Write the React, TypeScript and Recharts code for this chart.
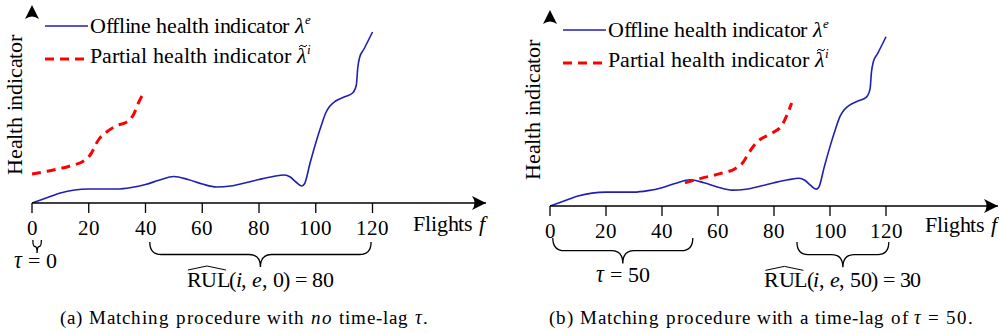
import React from 'react'
import { LineChart, Line, XAxis, YAxis, ReferenceArea, ReferenceDot } from 'recharts'

// offline health indicator (same curve in both panels)
const flights = [0, 5, 10, 15, 20, 25, 30, 35, 40, 45, 50, 55, 60, 65, 70, 75, 80, 85, 89, 91, 93, 95, 96, 98, 100, 102, 103.5, 105, 107, 110, 113, 114.3, 114.8, 115.5, 117, 120]
const offlineHI = [0, 5, 10, 13, 14, 14, 14, 15.5, 18.5, 23, 26.5, 23.5, 19, 16, 17, 20, 23.5, 26.5, 28, 26, 21, 17, 19, 40, 60, 78, 90, 97, 102, 106, 110, 118, 135, 146, 154, 171]

// partial health indicator, panel (a): no time lag
const partialFlightsA = [0, 7.5, 13.4, 18.7, 20.5, 23.4, 26.3, 30.4, 33.4, 35.7, 37.5, 39.3]
const partialHIA = [29, 33, 37, 43, 48, 63, 71, 78, 81, 88, 100, 110]

// partial health indicator, panel (b): shifted by tau = 50
const partialFlightsB = [48.2, 53.6, 60.7, 66.1, 69.0, 70.8, 73.8, 78.6, 82.7, 84.5, 86.3]
const partialHIB = [23.3, 27.7, 32.7, 37.7, 44.3, 52.7, 64.3, 72.7, 81, 91, 104]

const xTicks = [0, 20, 40, 60, 80, 100, 120]

const BLUE = '#1f1fb4'
const RED = '#ff0000'
const FAMILY = "HISerif, 'Liberation Serif', 'Tinos', 'FreeSerif', 'DejaVu Serif'"
const serif = { fontFamily: FAMILY }
const fontCss = `
@font-face { font-family: 'HISerif'; src: local('Liberation Serif'), local('LiberationSerif'), local('LiberationSerif-Regular'); font-style: normal; }
@font-face { font-family: 'HISerif'; src: local('Liberation Serif Italic'), local('LiberationSerif-Italic'); font-style: italic; }
.hi-fig text, .hi-fig tspan { font-family: ${FAMILY} !important; }
`

const offlineData = flights.map((f, i) => ({ f, v: offlineHI[i] }))
const partialDataA = partialFlightsA.map((f, i) => ({ f, v: partialHIA[i] }))
const partialDataB = partialFlightsB.map((f, i) => ({ f, v: partialHIB[i] }))

function bracePath(x: number, y: number, w: number, h: number) {
  const cx = x + w / 2
  const ym = y + h * 0.5
  const r = Math.min(h * 0.45, w / 4)
  return `M${x},${y} Q${x},${ym} ${x + r},${ym} L${cx - r},${ym} Q${cx},${ym} ${cx},${y + h} Q${cx},${ym} ${cx + r},${ym} L${x + w - r},${ym} Q${x + w},${ym} ${x + w},${y}`
}

function makeBrace(label: (cx: number, y: number) => React.ReactNode) {
  return (props: any) => {
    const { x, y, width, height } = props
    return (
      <g>
        <path d={bracePath(x, y, width, height)} fill="none" stroke="#000" strokeWidth={1.3} />
        {label(x + width / 2, y + height)}
      </g>
    )
  }
}

function rulLabel(tail: string, width: number) {
  return (cx: number, tip: number) => {
    const base = tip + 20
    const left = cx - width / 2
    return (
      <g>
        <text x={left} y={base} textLength={width} lengthAdjust="spacing" style={serif} fontSize={22} fill="#000">
          <tspan>RUL(</tspan>
          <tspan fontStyle="italic">i</tspan>
          <tspan>, </tspan>
          <tspan fontStyle="italic">e</tspan>
          <tspan>{tail}</tspan>
        </text>
        <path d={`M${left + 1},${base - 17} L${left + 20},${base - 21} L${left + 39},${base - 17}`} fill="none" stroke="#000" strokeWidth={1} />
      </g>
    )
  }
}

function tauLabel(text: string, dx: number, dy: number) {
  return (cx: number, tip: number) => (
    <text x={cx + dx} y={tip + dy} textAnchor="middle" style={serif} fontSize={22} fill="#000">
      <tspan fontStyle="italic">τ</tspan>
      <tspan>{text}</tspan>
    </text>
  )
}

const FlightTick = (props: any) => {
  const { x, y, payload } = props
  return (
    <text x={x} y={y + 14} textAnchor="middle" style={serif} fontSize={21} fill="#000">
      {payload.value}
    </text>
  )
}

const arrowRight = (props: any) => {
  const { cx, cy } = props
  return <path d={`M${cx},${cy} L${cx - 14},${cy - 7} Q${cx - 9},${cy} ${cx - 14},${cy + 7} Z`} fill="#000" />
}
const arrowUp = (props: any) => {
  const { cx, cy } = props
  return <path d={`M${cx},${cy} L${cx - 7},${cy + 14} Q${cx},${cy + 9} ${cx + 7},${cy + 14} Z`} fill="#000" />
}

interface PanelProps {
  left: number
  width: number
  margin: { top: number; right: number; bottom: number; left: number }
  partial: { f: number; v: number }[]
  braces: { x1: number; x2: number; y1: number; y2: number; shape: any }[]
}

function Panel({ left, width, margin, partial, braces }: PanelProps) {
  return (
    <div style={{ position: 'absolute', left, top: 0 }}>
      <LineChart width={width} height={333} margin={margin} style={{ overflow: 'visible' }}>
        <XAxis
          dataKey="f"
          type="number"
          domain={[0, 160]}
          ticks={xTicks}
          allowDataOverflow
          height={30}
          axisLine={{ stroke: '#000', strokeWidth: 1.5 }}
          tickLine={{ stroke: '#000', strokeWidth: 1.3 }}
          tickSize={10}
          tickMargin={8}
          tick={<FlightTick />}
        />
        <YAxis
          type="number"
          domain={[0, 198]}
          allowDataOverflow
          width={0}
          tick={false}
          tickLine={false}
          axisLine={{ stroke: '#000', strokeWidth: 1.5 }}
        />
        <Line
          data={offlineData}
          dataKey="v"
          type="monotone"
          stroke={BLUE}
          strokeWidth={1.6}
          dot={false}
          isAnimationActive={false}
        />
        <Line
          data={partial}
          dataKey="v"
          type="monotone"
          stroke={RED}
          strokeWidth={3}
          strokeDasharray="9 6"
          dot={false}
          isAnimationActive={false}
        />
        {braces.map((b, i) => (
          <ReferenceArea key={i} x1={b.x1} x2={b.x2} y1={b.y1} y2={b.y2} ifOverflow="visible" shape={b.shape} />
        ))}
        <ReferenceDot x={160} y={0} ifOverflow="visible" shape={arrowRight} />
        <ReferenceDot x={0} y={198} ifOverflow="visible" shape={arrowUp} />
      </LineChart>
    </div>
  )
}

function Legend({ x, y }: { x: number; y: number }) {
  return (
    <g>
      <line x1={x - 45} x2={x - 2} y1={y - 7} y2={y - 7} stroke={BLUE} strokeWidth={1.6} />
      <text x={x} y={y} style={serif} fontSize={22} fill="#000">
        <tspan textLength={205} lengthAdjust="spacing">Offline health indicator </tspan>
        <tspan fontStyle="italic">λ</tspan>
        <tspan fontStyle="italic" fontSize={13} dy={-9}>e</tspan>
      </text>
      <line x1={x - 45} x2={x - 2} y1={y + 26} y2={y + 26} stroke={RED} strokeWidth={3} strokeDasharray="9 6" />
      <text x={x} y={y + 30} style={serif} fontSize={22} fill="#000">
        <tspan textLength={207} lengthAdjust="spacing">Partial health indicator </tspan>
        <tspan fontStyle="italic">λ</tspan>
        <tspan fontStyle="italic" fontSize={13} dy={-9}>i</tspan>
      </text>
      <path d={`M${x + 209},${y + 14} q2,-3 4,-1 t4,-1`} fill="none" stroke="#000" strokeWidth={1} />
    </g>
  )
}

export default function App() {
  return (
    <div className="hi-fig" style={{ position: 'absolute', left: 0, top: 0, width: 999, height: 333, background: '#fff', overflow: 'hidden' }}>
      <style>{fontCss}</style>
      <Panel
        left={0}
        width={500}
        margin={{ top: 5, right: 14, bottom: 100, left: 32 }}
        partial={partialDataA}
        braces={[
          { x1: 0.3, x2: 3.3, y1: -50, y2: -37, shape: makeBrace(tauLabel(' = 0', -2, 15)) },
          { x1: 41.5, x2: 119.5, y1: -64, y2: -39, shape: makeBrace(rulLabel(', 0) = 80', 147)) },
        ]}
      />
      <Panel
        left={500}
        width={499}
        margin={{ top: 10, right: 1, bottom: 97, left: 50 }}
        partial={partialDataB}
        braces={[
          { x1: 1, x2: 51, y1: -58, y2: -32.3, shape: makeBrace(tauLabel(' = 50', 0, 19)) },
          { x1: 88.2, x2: 121, y1: -62, y2: -36.4, shape: makeBrace(rulLabel(', 50) = 30', 157)) },
        ]}
      />
      <svg width={999} height={333} style={{ position: 'absolute', left: 0, top: 0, pointerEvents: 'none' }}>
        <Legend x={90} y={33} />
        <Legend x={608} y={37} />
        <text transform="translate(21.5,105) rotate(-90)" textAnchor="middle" textLength={140} lengthAdjust="spacing" style={serif} fontSize={22}>
          Health indicator
        </text>
        <text transform="translate(540,110) rotate(-90)" textAnchor="middle" textLength={140} lengthAdjust="spacing" style={serif} fontSize={22}>
          Health indicator
        </text>
        <text x={413} y={231} textLength={72} lengthAdjust="spacing" style={serif} fontSize={22}>
          Flights <tspan fontStyle="italic">f</tspan>
        </text>
        <text x={925} y={232} textLength={72} lengthAdjust="spacing" style={serif} fontSize={22}>
          Flights <tspan fontStyle="italic">f</tspan>
        </text>
        <text x={60} y={324} textLength={368} lengthAdjust="spacing" style={serif} fontSize={19}>
          (a) Matching procedure with <tspan fontStyle="italic">no</tspan> time-lag <tspan fontStyle="italic">τ</tspan>.
        </text>
        <text x={549} y={324} textLength={424} lengthAdjust="spacing" style={serif} fontSize={19}>
          (b) Matching procedure with a time-lag of <tspan fontStyle="italic">τ</tspan> = 50.
        </text>
      </svg>
    </div>
  )
}
